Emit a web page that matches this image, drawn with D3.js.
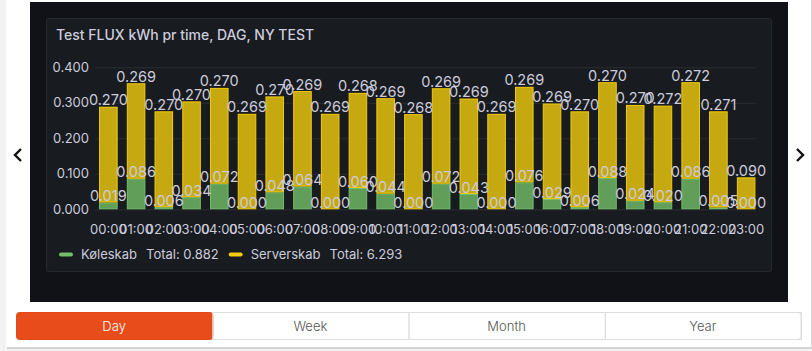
<html>
    <head>
        <title>Test FLUX kWh</title>
        <script type="text/javascript" src="https://cdn.jsdelivr.net/npm/d3@7"></script>
        <style>
            body { margin: 0; background: #ffffff; }
            text { font-family: Inter, "Noto Sans", sans-serif; }
        </style>
    </head>
    <body>
        <script type="text/javascript">
            // data
            let hours = ["00:00","01:00","02:00","03:00","04:00","05:00","06:00","07:00","08:00","09:00","10:00","11:00",
                         "12:00","13:00","14:00","15:00","16:00","17:00","18:00","19:00","20:00","21:00","22:00","23:00"]
            let koleskab = [0.019,0.086,0.006,0.034,0.072,0.000,0.048,0.064,0.000,0.060,0.044,0.000,
                            0.072,0.043,0.000,0.076,0.029,0.006,0.088,0.024,0.020,0.086,0.005,0.000]
            let serverskab = [0.270,0.269,0.270,0.270,0.270,0.269,0.270,0.269,0.269,0.268,0.269,0.268,
                              0.269,0.269,0.269,0.269,0.269,0.270,0.270,0.270,0.272,0.272,0.271,0.090]
            let yTicks = [0, 0.1, 0.2, 0.3, 0.4]
            let buttons = ["Day","Week","Month","Year"]
            let series = [
                {name:"Køleskab", values:koleskab, total:"0.882", line:"#73BF69", fill:"#619e5a"},
                {name:"Serverskab", values:serverskab, total:"6.293", line:"#F2CC0C", fill:"#c6a910"}
            ]

            let w = 812
            let h = 351
            let svg = d3.select("body")
                        .append("svg")
                        .attr("width",w)
                        .attr("height",h)

            // page / card background
            svg.append("rect").attr("x",0).attr("y",0).attr("width",w).attr("height",h).attr("fill","#f2f2f2")
            svg.append("rect").attr("x",7).attr("y",0).attr("width",805).attr("height",349).attr("fill","#d4d4d4")
            svg.append("rect").attr("x",6).attr("y",0).attr("width",805).attr("height",347).attr("fill","#ffffff")

            // dark dashboard area + panel
            svg.append("rect").attr("x",30).attr("y",2).attr("width",758).attr("height",300).attr("fill","#111217")
            svg.append("rect").attr("x",46.5).attr("y",18.5).attr("width",725).attr("height",253).attr("rx",2)
                .attr("fill","#181b1f").attr("stroke","#25282d")

            svg.append("text").attr("x",56).attr("y",40)
                .attr("fill","#ccccdc").attr("font-size",14).attr("font-weight",500)
                .text("Test FLUX kWh pr time, DAG, NY TEST")

            // scales
            let x = d3.scaleBand().domain(hours).range([94.5,760]).paddingInner(0.33).paddingOuter(0.165)
            let y = d3.scaleLinear().domain([0,0.4]).range([209.3,67.3])

            // grid + y axis
            let yAxis = d3.axisLeft(y).tickValues(yTicks).tickFormat(d3.format(".3f")).tickSize(-661).tickPadding(6)
            let gy = svg.append("g").attr("transform","translate(95,0)").call(yAxis)
            gy.select(".domain").remove()
            gy.selectAll("line").attr("stroke","#2a2d33")
            gy.selectAll("text").attr("fill","#ccccdc").attr("font-size",13).attr("font-family","Inter, sans-serif")

            // x axis
            let xAxis = d3.axisBottom(x).tickSize(0).tickPadding(0)
            let gx = svg.append("g").attr("transform","translate(0,225)").call(xAxis)
            gx.select(".domain").remove()
            gx.selectAll("text").attr("fill","#ccccdc").attr("font-size",13).attr("font-family","Inter, sans-serif")

            // stacked bars
            let table = hours.map((hr,i)=>({hour:hr, "Køleskab":koleskab[i], "Serverskab":serverskab[i]}))
            let stack = d3.stack().keys(series.map(s=>s.name))(table)

            stack.forEach((layer,k)=>{
                let s = series[k]
                svg.append("g").selectAll("rect")
                    .data(layer)
                    .enter()
                    .append("rect")
                    .attr("x",d=>x(d.data.hour)+0.5)
                    .attr("y",d=>y(d[1])+0.5)
                    .attr("width",x.bandwidth()-1)
                    .attr("height",d=>Math.max(0,y(d[0])-y(d[1])-1))
                    .attr("fill",s.fill)
                    .attr("stroke",s.line)
                    .attr("stroke-width",1)
            })
            stack.forEach((layer,k)=>{
                svg.append("g").selectAll("text")
                    .data(layer)
                    .enter()
                    .append("text")
                    .attr("x",d=>x(d.data.hour)+x.bandwidth()/2)
                    .attr("y",d=>y(d[1])-1.5)
                    .attr("text-anchor","middle")
                    .attr("font-size",14.5)
                    .attr("fill","#ccccdc")
                    .text(d=>d3.format(".3f")(d[1]-d[0]))
            })

            // legend
            let lx = 59
            series.forEach(s=>{
                svg.append("rect").attr("x",lx).attr("y",252.5).attr("width",14).attr("height",4).attr("rx",2).attr("fill",s.line)
                let t1 = svg.append("text").attr("x",lx+22).attr("y",259).attr("fill","#ccccdc").attr("font-size",13).text(s.name)
                let tw = t1.node().getComputedTextLength()
                let t2 = svg.append("text").attr("x",lx+22+tw+9).attr("y",259).attr("fill","#ccccdc").attr("font-size",13).text("Total: "+s.total)
                lx = lx+22+tw+9+t2.node().getComputedTextLength()+10
            })

            // nav chevrons
            svg.append("path").attr("d","M21,149 L15,155 L21,161").attr("fill","none").attr("stroke","#111").attr("stroke-width",2.4)
            svg.append("path").attr("d","M797,149 L803,155 L797,161").attr("fill","none").attr("stroke","#111").attr("stroke-width",2.4)

            // period buttons
            let bx = d3.scaleBand().domain(buttons).range([16,801])
            svg.append("rect").attr("x",16.5).attr("y",312.5).attr("width",784.5).attr("height",27).attr("rx",3)
                .attr("fill","#ffffff").attr("stroke","#dddddd")
            let bg = svg.append("g").selectAll("g").data(buttons).enter().append("g")
            bg.append("rect")
                .attr("x",d=>bx(d)+0.5).attr("y",312.5)
                .attr("width",bx.bandwidth()).attr("height",27)
                .attr("rx",d=>d=="Day"?3:0)
                .attr("fill",d=>d=="Day"?"#e84c1b":"none")
                .attr("stroke",d=>d=="Day"?"#e0481a":"#dddddd")
            bg.append("text")
                .attr("x",d=>bx(d)+bx.bandwidth()/2)
                .attr("y",331)
                .attr("text-anchor","middle")
                .attr("font-family","'Open Sans', sans-serif")
                .attr("font-weight",300)
                .attr("font-size",13)
                .attr("fill",d=>d=="Day"?"#ffffff":"#555555")
                .text(d=>d)
        </script>
    </body>
</html>
